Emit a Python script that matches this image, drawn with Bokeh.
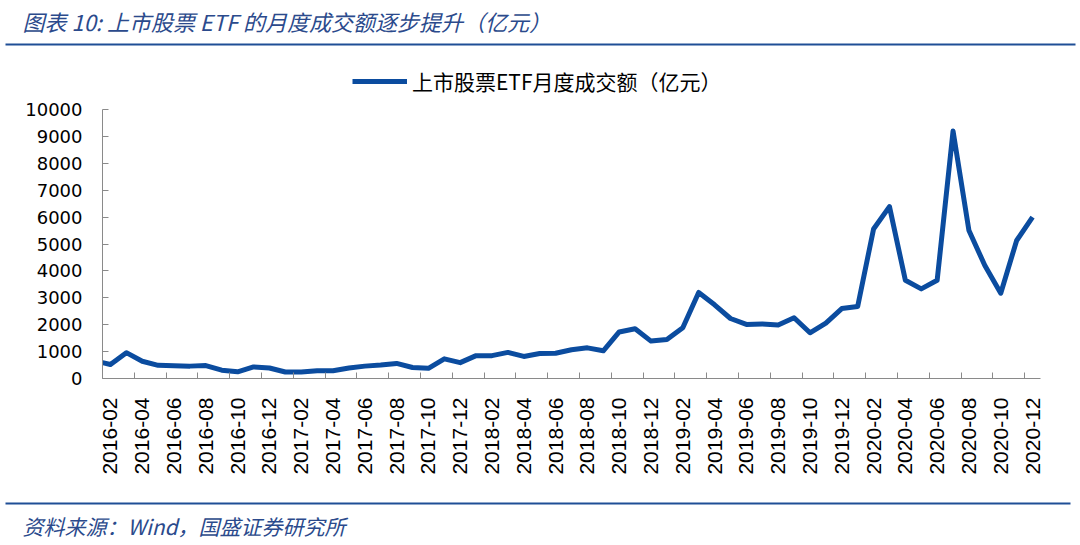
import math
from bokeh.plotting import figure
from bokeh.layouts import column, row
from bokeh.models import Range1d, FixedTicker, Legend, LegendItem, Spacer
from bokeh.core.properties import value
from bokeh.embed import file_html
from bokeh.resources import INLINE

# ---------------- data ----------------
months = [
    "2016-01", "2016-02", "2016-03", "2016-04", "2016-05", "2016-06",
    "2016-07", "2016-08", "2016-09", "2016-10", "2016-11", "2016-12",
    "2017-01", "2017-02", "2017-03", "2017-04", "2017-05", "2017-06",
    "2017-07", "2017-08", "2017-09", "2017-10", "2017-11", "2017-12",
    "2018-01", "2018-02", "2018-03", "2018-04", "2018-05", "2018-06",
    "2018-07", "2018-08", "2018-09", "2018-10", "2018-11", "2018-12",
    "2019-01", "2019-02", "2019-03", "2019-04", "2019-05", "2019-06",
    "2019-07", "2019-08", "2019-09", "2019-10", "2019-11", "2019-12",
    "2020-01", "2020-02", "2020-03", "2020-04", "2020-05", "2020-06",
    "2020-07", "2020-08", "2020-09", "2020-10", "2020-11", "2020-12",
]
turnover = [
    660, 520, 960, 640, 490, 470,
    460, 480, 310, 250, 430, 390,
    240, 240, 290, 290, 390, 460,
    500, 560, 410, 380, 730, 590,
    850, 850, 970, 820, 930, 940,
    1070, 1140, 1030, 1730, 1850, 1390,
    1450, 1890, 3200, 2740, 2230, 2010,
    2030, 1990, 2260, 1700, 2060, 2600,
    2680, 5560, 6390, 3650, 3330, 3650,
    9200, 5500, 4200, 3170, 5130, 6000,
]
y_ticks = [0, 1000, 2000, 3000, 4000, 5000, 6000, 7000, 8000, 9000, 10000]
series_name = "上市股票ETF月度成交额（亿元）"
title_text = "图表 10: 上市股票 ETF 的月度成交额逐步提升（亿元）"
source_text = "资料来源：Wind，国盛证券研究所"

W = 1080
BLUE_TXT = "#2B4A8C"
BLUE_RULE = "#1F4E96"
LINE_COLOR = "#0B4C9F"
AXIS_COLOR = "#8A8A8A"
CJK = "Noto Sans CJK SC"


def blank(width, height):
    f = figure(width=width, height=height, x_range=Range1d(0, width), y_range=Range1d(height, 0),
               output_backend="svg", toolbar_location=None,
               x_axis_location=None, y_axis_location=None,
               min_border_left=0, min_border_right=0, min_border_top=0, min_border_bottom=0)
    f.grid.visible = False
    f.outline_line_color = None
    f.background_fill_color = "white"
    f.border_fill_color = "white"
    return f


idx = list(range(len(months)))

# ---------------- header (title, rule, legend) ----------------
head = blank(W, 100)
head.text(x=[22], y=[20], text=[title_text], text_font=value(CJK), text_font_size="22px",
          text_font_style="italic", text_color=BLUE_TXT, text_baseline="middle", text_align="left")
head.segment(x0=[5], y0=[44], x1=[1075], y1=[44], line_width=2, line_color=BLUE_RULE)
# legend key renderer: same series, lies outside this strip's visible range
key = head.line(x=idx, y=turnover, line_color=LINE_COLOR, line_width=5)
legend = Legend(items=[LegendItem(label=series_name, renderers=[key])],
                location=(352, 4), orientation="horizontal",
                glyph_width=55, glyph_height=24, label_height=24, label_standoff=5,
                padding=0, margin=0, border_line_color=None, background_fill_alpha=0,
                label_text_font=CJK, label_text_font_size="21px", label_text_color="#000000")
head.add_layout(legend)

# ---------------- main chart ----------------
p = figure(width=1078, height=392, x_range=Range1d(0.5, len(months) - 0.5), y_range=Range1d(0, 10000),
           output_backend="svg", toolbar_location=None,
           min_border_left=101, min_border_right=39, min_border_top=9, min_border_bottom=114)
p.grid.visible = False
p.outline_line_color = None
p.background_fill_color = "white"
p.border_fill_color = "white"

p.line(x=idx, y=turnover, line_color=LINE_COLOR, line_width=5, line_join="round")

label_pos = [i for i in idx if i % 2 == 1]
tick_pos = [i - 0.5 for i in label_pos]
xa = p.xaxis[0]
xa.ticker = FixedTicker(ticks=label_pos, minor_ticks=tick_pos)
xa.major_label_overrides = {i: months[i] for i in label_pos}
xa.major_label_orientation = math.pi / 2
xa.major_tick_line_color = None
xa.major_tick_in = 0
xa.major_tick_out = 0
xa.minor_tick_in = 6
xa.minor_tick_out = 0
xa.minor_tick_line_color = AXIS_COLOR
xa.axis_line_color = AXIS_COLOR
xa.major_label_text_font = "Liberation Sans"
xa.major_label_text_font_size = "21px"
xa.major_label_text_color = "#000000"
xa.major_label_standoff = 19

ya = p.yaxis[0]
ya.ticker = FixedTicker(ticks=y_ticks, minor_ticks=[])
ya.major_tick_in = 6
ya.major_tick_out = 0
ya.major_tick_line_color = AXIS_COLOR
ya.axis_line_color = AXIS_COLOR
ya.major_label_text_font = "DejaVu Sans"
ya.major_label_text_font_size = "18px"
ya.major_label_text_color = "#000000"
ya.major_label_standoff = 20

# ---------------- footer ----------------
foot = blank(W, 53)
foot.segment(x0=[5], y0=[11], x1=[1070], y1=[11], line_width=2, line_color=BLUE_RULE)
foot.text(x=[22], y=[33], text=[source_text], text_font=value(CJK), text_font_size="21px",
          text_font_style="italic", text_color=BLUE_TXT, text_baseline="middle", text_align="left")

layout = column(head, row(Spacer(width=1, height=392), p), foot, spacing=0)
open("out.html", "w").write(file_html(layout, INLINE))
